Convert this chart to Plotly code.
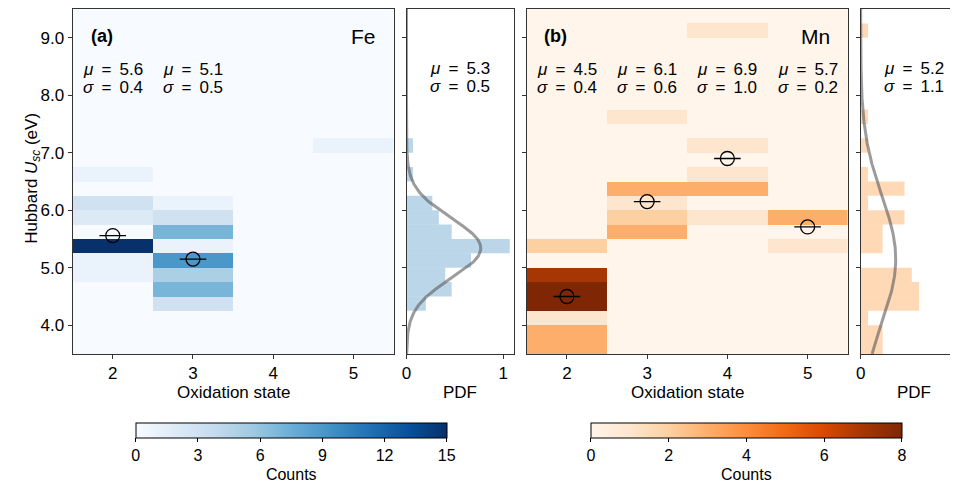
import numpy as np
import plotly.graph_objects as go

W, H = 958, 484
OX, OY = 8, 8  # page offset of the figure (default body margin)

# ---------------- data ----------------
bin_width = 0.25
u_min, u_max = 3.5, 9.5
ox_states = [2, 3, 4, 5]

# Fe: lower bin edge (eV) and counts for each oxidation state
fe_ox2_lo = [6.5, 6.0, 5.75, 5.25, 5.0, 4.75]
fe_ox2_n = [1, 3, 2, 15, 1, 1]
fe_ox3_lo = [6.0, 5.75, 5.5, 5.25, 5.0, 4.75, 4.5, 4.25]
fe_ox3_n = [1, 3, 7, 1, 9, 5, 7, 3]
fe_ox4_lo = []
fe_ox4_n = []
fe_ox5_lo = [7.0]
fe_ox5_n = [1]

# Mn
mn_ox2_lo = [5.25, 4.75, 4.5, 4.25, 4.0, 3.75, 3.5]
mn_ox2_n = [2, 7, 8, 8, 1, 3, 3]
mn_ox3_lo = [7.5, 6.25, 6.0, 5.75, 5.5]
mn_ox3_n = [1, 3, 1, 2, 3]
mn_ox4_lo = [9.0, 7.0, 6.5, 6.25, 5.75]
mn_ox4_n = [1, 1, 1, 3, 1]
mn_ox5_lo = [5.75, 5.25]
mn_ox5_n = [3, 1]

# means per oxidation state (markers) and their labels
fe_mean_ox = [2, 3]
fe_mean_u = [5.56, 5.15]
fe_mu_lbl = ["5.6", "5.1"]
fe_sd_lbl = ["0.4", "0.5"]
mn_mean_ox = [2, 3, 4, 5]
mn_mean_u = [4.50, 6.15, 6.90, 5.71]
mn_mu_lbl = ["4.5", "6.1", "6.9", "5.7"]
mn_sd_lbl = ["0.4", "0.6", "1.0", "0.2"]

# overall normal fits
fe_fit_mu, fe_fit_sd = 5.34, 0.52
fe_fit_lbl = ("5.3", "0.5")
mn_fit_mu, mn_fit_sd = 5.15, 1.1
mn_fit_lbl = ("5.2", "1.1")

fe_max, fe_ticks = 15, [0, 3, 6, 9, 12, 15]
mn_max, mn_ticks = 8, [0, 2, 4, 6, 8]
u_ticks = [4, 5, 6, 7, 8, 9]

BLUES = ["#f7fbff", "#deebf7", "#c6dbef", "#9ecae1", "#6baed6",
         "#4292c6", "#2171b5", "#08519c", "#08306b"]
ORANGES = ["#fff5eb", "#fee6ce", "#fdd0a2", "#fdae6b", "#fd8d3c",
           "#f16913", "#d94801", "#a63603", "#7f2704"]

# ---------------- helpers ----------------
edges = np.arange(u_min, u_max + 1e-9, bin_width)
centers = edges[:-1] + bin_width / 2


def grid(los, ns):
    z = np.zeros((len(centers), len(los)))
    for j, (lo, n) in enumerate(zip(los, ns)):
        for l, c in zip(lo, n):
            i = int(round((l - u_min) / bin_width))
            z[i, j] = c
    return z


def cs(cols):
    return [[k / (len(cols) - 1), c] for k, c in enumerate(cols)]


fe_z = grid([fe_ox2_lo, fe_ox3_lo, fe_ox4_lo, fe_ox5_lo],
            [fe_ox2_n, fe_ox3_n, fe_ox4_n, fe_ox5_n])
mn_z = grid([mn_ox2_lo, mn_ox3_lo, mn_ox4_lo, mn_ox5_lo],
            [mn_ox2_n, mn_ox3_n, mn_ox4_n, mn_ox5_n])
fe_pdf = fe_z.sum(axis=1) / (fe_z.sum() * bin_width)
mn_pdf = mn_z.sum(axis=1) / (mn_z.sum() * bin_width)

uu = np.linspace(u_min, u_max, 400)


def gauss(mu, sd):
    return np.exp(-0.5 * ((uu - mu) / sd) ** 2) / (sd * np.sqrt(2 * np.pi))


def px(x):
    return (x - OX) / W


def py(y):
    return 1 - (y - OY) / H


FONT = "Liberation Sans"
TF = 17  # axis text size
PDF_UNIT = 97.4  # pixels per PDF unit

fig = go.Figure()


def cbar(xc, ticks):
    return dict(orientation="h", x=px(xc), xanchor="center", y=py(422.5), yanchor="top",
                len=311, lenmode="pixels", thickness=15, xpad=0, ypad=0,
                outlinewidth=1, outlinecolor="black",
                tickvals=ticks, ticks="outside", ticklen=4, tickcolor="black",
                tickfont=dict(size=16, color="black", family=FONT),
                title=dict(text="Counts", side="bottom",
                           font=dict(size=16, color="black", family=FONT)))


# ---- panel a ----
fig.add_trace(go.Heatmap(x=ox_states, y=centers, z=fe_z, zmin=0, zmax=fe_max,
                         colorscale=cs(BLUES), xaxis="x", yaxis="y", hoverinfo="skip",
                         colorbar=cbar(288, fe_ticks)))
fig.add_trace(go.Bar(y=centers, x=fe_pdf, orientation="h", width=bin_width,
                     marker=dict(color="rgba(31,119,180,0.3)", line=dict(width=0)),
                     xaxis="x2", yaxis="y2", hoverinfo="skip"))
fig.add_trace(go.Scatter(x=gauss(fe_fit_mu, fe_fit_sd), y=uu, mode="lines",
                         line=dict(color="rgba(90,90,90,0.6)", width=3),
                         xaxis="x2", yaxis="y2", hoverinfo="skip"))

# ---- panel b ----
fig.add_trace(go.Heatmap(x=ox_states, y=centers, z=mn_z, zmin=0, zmax=mn_max,
                         colorscale=cs(ORANGES), xaxis="x3", yaxis="y3", hoverinfo="skip",
                         colorbar=cbar(746, mn_ticks)))
fig.add_trace(go.Bar(y=centers, x=mn_pdf, orientation="h", width=bin_width,
                     marker=dict(color="rgba(255,127,14,0.3)", line=dict(width=0)),
                     xaxis="x4", yaxis="y4", hoverinfo="skip"))
fig.add_trace(go.Scatter(x=gauss(mn_fit_mu, mn_fit_sd), y=uu, mode="lines",
                         line=dict(color="rgba(90,90,90,0.6)", width=3),
                         xaxis="x4", yaxis="y4", hoverinfo="skip"))

# mean markers
for xs, ys, xa, ya in [(fe_mean_ox, fe_mean_u, "x", "y"), (mn_mean_ox, mn_mean_u, "x3", "y3")]:
    fig.add_trace(go.Scatter(x=xs, y=ys, mode="markers", xaxis=xa, yaxis=ya, hoverinfo="skip",
                             marker=dict(symbol="line-ew", size=19, color="black",
                                         line=dict(color="black", width=1.3))))
    fig.add_trace(go.Scatter(x=xs, y=ys, mode="markers", xaxis=xa, yaxis=ya, hoverinfo="skip",
                             marker=dict(symbol="circle-open", size=14, color="black",
                                         line=dict(color="black", width=1.3))))

# ---------------- layout ----------------
ydom = [py(354), py(9)]
axline = dict(showline=True, linecolor="#333", linewidth=1, ticks="outside", ticklen=4,
              tickcolor="#333", tickfont=dict(size=TF, color="black", family=FONT),
              showgrid=False, zeroline=False, mirror=True)
yax = dict(axline, range=[u_min, u_max], tickvals=u_ticks, domain=ydom)

fig.update_layout(
    width=W, height=H, margin=dict(l=0, r=0, t=0, b=0),
    paper_bgcolor="white", plot_bgcolor="white", showlegend=False,
    font=dict(family=FONT, size=TF, color="black"), barmode="overlay",
    xaxis=dict(axline, domain=[px(68), px(391)], range=[1.5, 5.5], tickvals=ox_states, anchor="y"),
    yaxis=dict(yax, anchor="x", ticktext=["%.1f" % v for v in u_ticks]),
    xaxis2=dict(axline, domain=[px(404), px(512)], range=[0, (512 - 404) / PDF_UNIT],
                tickvals=[0, 1], anchor="y2"),
    yaxis2=dict(yax, anchor="x2", showticklabels=False),
    xaxis3=dict(axline, domain=[px(525), px(848)], range=[1.5, 5.5], tickvals=ox_states, anchor="y3"),
    yaxis3=dict(yax, anchor="x3", showticklabels=False),
    xaxis4=dict(axline, domain=[px(861), 1.0], range=[0, (W + OX - 861) / PDF_UNIT],
                tickvals=[0, 1], anchor="y4"),
    yaxis4=dict(yax, anchor="x4", showticklabels=False),
)

ann = []
# axis titles
for cx in [229.5, 686.5]:
    ann.append(dict(text="Oxidation state", x=px(cx), y=py(392), xref="paper", yref="paper",
                    showarrow=False, xanchor="center", yanchor="middle", font=dict(size=TF)))
for cx in [458, 915]:
    ann.append(dict(text="PDF", x=px(cx), y=py(392), xref="paper", yref="paper",
                    showarrow=False, xanchor="center", yanchor="middle", font=dict(size=TF)))
ann.append(dict(text="Hubbard <i>U</i><sub><i>sc</i></sub> (eV)", x=px(28), y=py(178),
                xref="paper", yref="paper", showarrow=False, textangle=-90,
                xanchor="center", yanchor="middle", font=dict(size=TF)))
# panel labels
for lbl, el, xa, ya in [("(a)", "Fe", "x", "y"), ("(b)", "Mn", "x3", "y3")]:
    ann.append(dict(text="<b>%s</b>" % lbl, x=1.86, y=9.03, xref=xa, yref=ya, showarrow=False,
                    xanchor="center", yanchor="middle", font=dict(size=18)))
    ann.append(dict(text=el, x=5.3, y=9.03, xref=xa, yref=ya, showarrow=False,
                    xanchor="right", yanchor="middle", font=dict(size=21)))


def mu_txt(v):
    return "<i>μ</i>\u2009 = \u2009" + v


def sd_txt(v):
    return "<i>σ</i>\u2009 = \u2009" + v


# statistics
for oxs, mus, sds, xa, ya in [(fe_mean_ox, fe_mu_lbl, fe_sd_lbl, "x", "y"),
                              (mn_mean_ox, mn_mu_lbl, mn_sd_lbl, "x3", "y3")]:
    for o, m, s in zip(oxs, mus, sds):
        ann.append(dict(text=mu_txt(m), x=o, y=9.5 - (69 - 9) / 57.5, xref=xa, yref=ya,
                        showarrow=False, xanchor="center", yanchor="middle", font=dict(size=17)))
        ann.append(dict(text=sd_txt(s), x=o, y=9.5 - (87 - 9) / 57.5, xref=xa, yref=ya,
                        showarrow=False, xanchor="center", yanchor="middle", font=dict(size=17)))
for (m, s), cx in [(fe_fit_lbl, 458), (mn_fit_lbl, 915)]:
    ann.append(dict(text=mu_txt(m), x=px(cx), y=py(69), xref="paper", yref="paper",
                    showarrow=False, xanchor="center", yanchor="middle", font=dict(size=17)))
    ann.append(dict(text=sd_txt(s), x=px(cx), y=py(87), xref="paper", yref="paper",
                    showarrow=False, xanchor="center", yanchor="middle", font=dict(size=17)))
fig.update_layout(annotations=ann)

fig.write_html("out.html")
